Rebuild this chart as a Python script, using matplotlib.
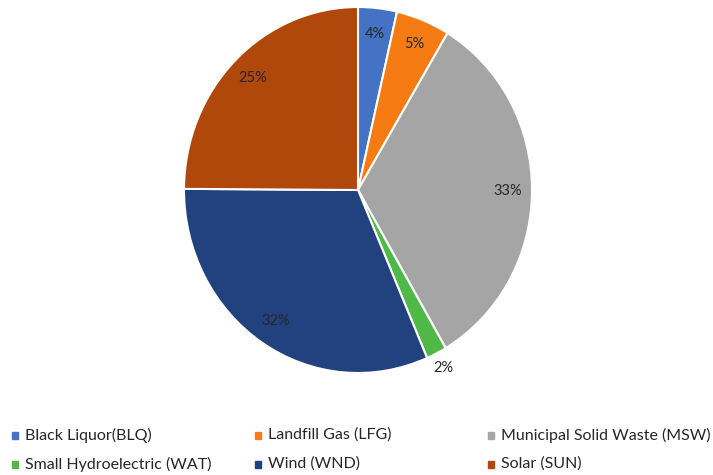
import matplotlib
matplotlib.use('Agg')
import matplotlib.pyplot as plt
from matplotlib.patches import Rectangle

# share of each source (percent)
sources = ['Black Liquor(BLQ)', 'Landfill Gas (LFG)', 'Municipal Solid Waste (MSW)',
           'Small Hydroelectric (WAT)', 'Wind (WND)', 'Solar (SUN)']
shares = [3.6, 5.0, 33.0, 1.9, 31.6, 24.9]
colors = ['#4472C4', '#F57B12', '#A5A5A5', '#4FB847', '#22427F', '#B0470B']

plt.rcParams['font.family'] = ['Lato', 'DejaVu Sans']

W, H = 713, 475
fig = plt.figure(figsize=(W / 100, H / 100), dpi=100)

# the original pie is slightly squashed sideways: centre ~ (358, 190) px,
# half-width ~ 174 px, half-height ~ 183 px
cx, cy, rx, ry = 358, 190, 174, 183
ax = fig.add_axes([(cx - rx) / W, (H - cy - ry) / H, 2 * rx / W, 2 * ry / H])
wedges, texts, autotexts = ax.pie(
    shares, colors=colors, startangle=90, counterclock=False,
    autopct='%.0f%%', pctdistance=0.86,
    wedgeprops=dict(edgecolor='white', linewidth=1.5),
    textprops=dict(fontsize=10.5, color='#262626'))
ax.set_aspect('auto')
ax.set_xlim(-1, 1)
ax.set_ylim(-1, 1)

# the tiny hydro slice has its label outside
small = shares.index(min(shares))
x, y = autotexts[small].get_position()
autotexts[small].set_position((x * 1.27, y * 1.27))
autotexts[small].set_clip_on(False)

# legend: 2 rows x 3 columns, laid out like the original
col_x = [12, 255, 488]
row_y = [435, 464]
for i, (lab, col) in enumerate(zip(sources, colors)):
    px = col_x[i % 3]
    py = row_y[i // 3]
    fig.add_artist(Rectangle((px / W, (H - py - 3.5) / H), 6 / W, 7 / H,
                             transform=fig.transFigure, color=col))
    fig.text((px + 13) / W, (H - py) / H, lab, fontsize=11.5,
             color='#262626', va='center', ha='left')

fig.savefig('out.png', dpi=100)
